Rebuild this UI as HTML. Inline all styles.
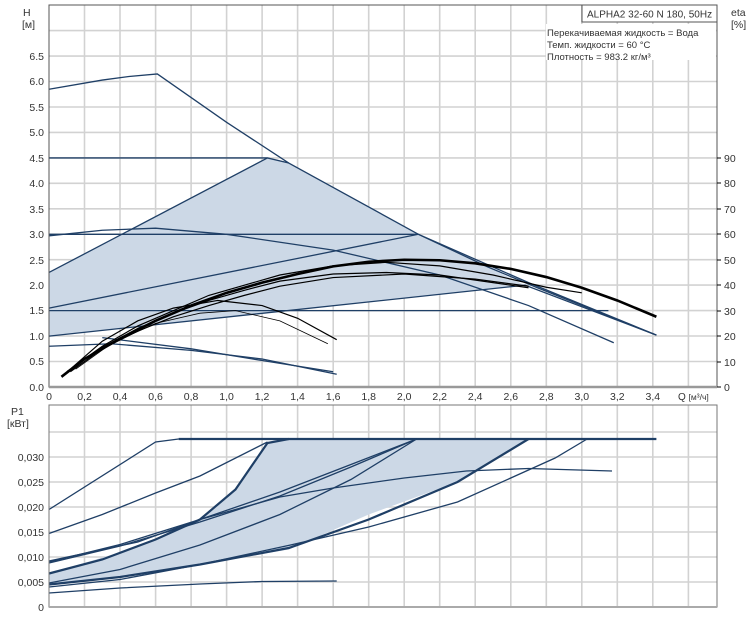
<!DOCTYPE html>
<html><head><meta charset="utf-8"><style>
body{margin:0;background:#fff;}
svg{display:block;font-family:"Liberation Sans","DejaVu Sans",sans-serif;}
.g line{stroke:#d2d2d2;stroke-width:1.6}
.c{fill:none;stroke:#1f3f66;stroke-width:1.3;vector-effect:non-scaling-stroke}
.t{stroke-width:2.2}
.k{fill:none;stroke:#000;stroke-width:1.2;vector-effect:non-scaling-stroke}
.kt{stroke-width:2.6}
text{font-size:10.5px;fill:#333}
</style></head><body>
<svg width="750" height="617" viewBox="0 0 750 617">
<rect x="49" y="5" width="668" height="382" fill="#fff"/>
<rect x="49" y="405" width="668" height="202" fill="#fff"/>
<!-- grids -->
<g class="g">
<line x1="84.5" y1="5" x2="84.5" y2="387"/><line x1="120" y1="5" x2="120" y2="387"/><line x1="155.6" y1="5" x2="155.6" y2="387"/><line x1="191.1" y1="5" x2="191.1" y2="387"/><line x1="226.6" y1="5" x2="226.6" y2="387"/><line x1="262.1" y1="5" x2="262.1" y2="387"/><line x1="297.6" y1="5" x2="297.6" y2="387"/><line x1="333.2" y1="5" x2="333.2" y2="387"/><line x1="368.7" y1="5" x2="368.7" y2="387"/><line x1="404.2" y1="5" x2="404.2" y2="387"/><line x1="439.7" y1="5" x2="439.7" y2="387"/><line x1="475.2" y1="5" x2="475.2" y2="387"/><line x1="510.8" y1="5" x2="510.8" y2="387"/><line x1="546.3" y1="5" x2="546.3" y2="387"/><line x1="581.8" y1="5" x2="581.8" y2="387"/><line x1="617.3" y1="5" x2="617.3" y2="387"/><line x1="652.8" y1="5" x2="652.8" y2="387"/><line x1="688.4" y1="5" x2="688.4" y2="387"/>
<line x1="84.5" y1="405" x2="84.5" y2="607"/><line x1="120" y1="405" x2="120" y2="607"/><line x1="155.6" y1="405" x2="155.6" y2="607"/><line x1="191.1" y1="405" x2="191.1" y2="607"/><line x1="226.6" y1="405" x2="226.6" y2="607"/><line x1="262.1" y1="405" x2="262.1" y2="607"/><line x1="297.6" y1="405" x2="297.6" y2="607"/><line x1="333.2" y1="405" x2="333.2" y2="607"/><line x1="368.7" y1="405" x2="368.7" y2="607"/><line x1="404.2" y1="405" x2="404.2" y2="607"/><line x1="439.7" y1="405" x2="439.7" y2="607"/><line x1="475.2" y1="405" x2="475.2" y2="607"/><line x1="510.8" y1="405" x2="510.8" y2="607"/><line x1="546.3" y1="405" x2="546.3" y2="607"/><line x1="581.8" y1="405" x2="581.8" y2="607"/><line x1="617.3" y1="405" x2="617.3" y2="607"/><line x1="652.8" y1="405" x2="652.8" y2="607"/><line x1="688.4" y1="405" x2="688.4" y2="607"/>
<line x1="49" y1="361.5" x2="717" y2="361.5"/><line x1="49" y1="336" x2="717" y2="336"/><line x1="49" y1="310.6" x2="717" y2="310.6"/><line x1="49" y1="285.1" x2="717" y2="285.1"/><line x1="49" y1="259.7" x2="717" y2="259.7"/><line x1="49" y1="234.2" x2="717" y2="234.2"/><line x1="49" y1="208.8" x2="717" y2="208.8"/><line x1="49" y1="183.3" x2="717" y2="183.3"/><line x1="49" y1="157.9" x2="717" y2="157.9"/><line x1="49" y1="132.4" x2="717" y2="132.4"/><line x1="49" y1="107" x2="717" y2="107"/><line x1="49" y1="81.5" x2="717" y2="81.5"/><line x1="49" y1="56.1" x2="717" y2="56.1"/><line x1="49" y1="30.6" x2="717" y2="30.6"/>
<line x1="49" y1="582" x2="717" y2="582"/><line x1="49" y1="557" x2="717" y2="557"/><line x1="49" y1="532" x2="717" y2="532"/><line x1="49" y1="507" x2="717" y2="507"/><line x1="49" y1="482" x2="717" y2="482"/><line x1="49" y1="457" x2="717" y2="457"/><line x1="49" y1="432" x2="717" y2="432"/>
</g>
<!-- top chart data -->
<g transform="translate(49,387) scale(177.6,-50.9)">
<polygon fill="#ccd8e6" points="0,2.25 1.23,4.5 1.35,4.4 2.08,3.0 2.47,2.36 2.68,2.0 0,1.0"/>
<polyline class="c" points="0,5.85 0.3,6.03 0.45,6.1 0.61,6.15 1.0,5.2 1.35,4.4 2.08,3.0 2.47,2.36 2.75,1.95 3.42,1.02"/>
<polyline class="c" points="0,4.5 1.23,4.5 1.35,4.4"/>
<polyline class="c" points="0,2.25 1.23,4.5"/>
<polyline class="c" points="0,3.0 2.08,3.0"/>
<polyline class="c" points="0,1.55 2.08,3.0"/>
<polyline class="c" points="0,1.5 3.15,1.5"/>
<polyline class="c" points="0,1.0 2.68,2.0 3.42,1.02"/>
<polyline class="c" points="2.08,3.0 2.7,2.05 3.42,1.02"/>
<polyline class="c" points="0,2.97 0.3,3.08 0.6,3.12 1.0,3.0 1.6,2.69 2.2,2.2 2.7,1.6 3.18,0.87"/>
<polyline class="c" points="0,0.8 0.35,0.85 0.8,0.72 1.2,0.55 1.62,0.25"/>
<polyline class="c" points="0.3,0.97 0.8,0.75 1.2,0.52 1.6,0.3"/>
<polyline class="k kt" points="0.07,0.2 0.2,0.55 0.4,0.95 0.6,1.3 0.8,1.6 1.0,1.85 1.2,2.05 1.4,2.22 1.6,2.37 1.8,2.46 2.0,2.5 2.2,2.49 2.4,2.43 2.6,2.32 2.8,2.16 3.0,1.95 3.2,1.7 3.42,1.38"/>
<polyline class="k" points="0.1,0.3 0.3,0.8 0.5,1.2 0.7,1.5 0.9,1.8 1.1,2.0 1.3,2.2 1.6,2.38 1.9,2.45 2.2,2.38 2.5,2.2 2.8,1.96 3.0,1.85"/>
<polyline class="k" points="0.1,0.3 0.3,0.78 0.5,1.15 0.7,1.45 0.9,1.7 1.1,1.9 1.3,2.08 1.6,2.22 1.9,2.25 2.2,2.2 2.5,2.05 2.7,1.95"/>
<polyline class="k" points="0.12,0.3 0.3,0.75 0.5,1.1 0.7,1.38 0.9,1.6 1.1,1.8 1.3,1.98 1.6,2.15 2.0,2.22 2.4,2.12 2.7,1.98"/>
<polyline class="k" points="0.12,0.35 0.3,0.9 0.5,1.3 0.7,1.55 0.95,1.7 1.2,1.6 1.4,1.35 1.62,0.93"/>
<polyline class="k" style="stroke-width:0.8" points="0.15,0.35 0.35,0.85 0.6,1.25 0.85,1.45 1.05,1.5 1.3,1.3 1.57,0.85"/>
</g>
<!-- bottom chart data -->
<g transform="translate(49,607) scale(177.6,-5000)">
<polygon fill="#ccd8e6" points="0,0.0067 0.5,0.012 0.85,0.0175 1.05,0.0235 1.23,0.0328 1.35,0.0336 2.7,0.0336 2.3,0.025 1.8,0.0185 1.35,0.0115 0.85,0.0085 0.4,0.006 0,0.0045"/>
<polyline class="c t" points="0.73,0.0336 3.42,0.0336"/>
<polyline class="c" points="0,0.0195 0.6,0.033 0.73,0.0336"/>
<polyline class="c" points="0,0.0147 0.3,0.0185 0.6,0.0228 0.85,0.0262 1.23,0.033"/>
<polyline class="c t" points="0,0.0067 0.3,0.0095 0.6,0.0135 0.85,0.0175 1.05,0.0235 1.23,0.0328 1.35,0.0336"/>
<polyline class="c" points="0,0.009 0.4,0.0125 0.85,0.0175 1.3,0.023 1.7,0.0285 2.07,0.0336"/>
<polyline class="c" points="0,0.0088 0.4,0.0122 0.85,0.017 1.3,0.0222 1.7,0.028 2.07,0.0336"/>
<polyline class="c" points="0,0.0092 0.5,0.013 0.85,0.0175 1.3,0.022 1.6,0.0238 2.0,0.0258 2.35,0.0272 2.7,0.0277 3.17,0.0272"/>
<polyline class="c" points="0,0.0048 0.4,0.0075 0.85,0.0124 1.3,0.0185 1.7,0.0255 2.07,0.0336"/>
<polyline class="c t" points="0,0.0045 0.4,0.006 0.85,0.0085 1.35,0.0118 1.8,0.0175 2.3,0.025 2.7,0.0336"/>
<polyline class="c" points="0,0.004 0.4,0.0055 0.85,0.0085 1.36,0.0124 1.8,0.016 2.3,0.021 2.85,0.0298 3.03,0.0336"/>
<polyline class="c" points="0,0.0028 0.4,0.0038 0.85,0.0046 1.2,0.0051 1.62,0.0052"/>
</g>
<!-- axes frames -->
<rect x="49" y="5" width="668" height="382" fill="none" stroke="#555" stroke-width="1"/>
<line x1="49" y1="387" x2="717" y2="387" stroke="#999" stroke-width="2.5"/>
<rect x="49" y="405" width="668" height="202" fill="none" stroke="#777" stroke-width="1"/>
<line x1="49" y1="607" x2="717" y2="607" stroke="#aaa" stroke-width="2"/>
<!-- info box -->
<rect x="582" y="5" width="135" height="17" fill="#fff" stroke="#555" stroke-width="1"/>
<text x="587" y="17.5" style="font-size:10px">ALPHA2 32-60 N 180, 50Hz</text>
<rect x="546" y="24" width="170" height="36" fill="#fff"/>
<text x="547" y="36" style="font-size:9.5px">Перекачиваемая жидкость = Вода</text>
<text x="547" y="48" style="font-size:9.5px">Темп. жидкости = 60 °C</text>
<text x="547" y="60" style="font-size:9.5px">Плотность = 983.2 кг/м³</text>
<!-- left labels -->
<text x="23" y="16">H</text><text x="22" y="28">[м]</text>
<g text-anchor="end">
<text x="44" y="60">6.5</text><text x="44" y="85">6.0</text><text x="44" y="111">5.5</text><text x="44" y="136">5.0</text><text x="44" y="162">4.5</text><text x="44" y="187">4.0</text><text x="44" y="213">3.5</text><text x="44" y="238">3.0</text><text x="44" y="264">2.5</text><text x="44" y="289">2.0</text><text x="44" y="314">1.5</text><text x="44" y="340">1.0</text><text x="44" y="365">0.5</text><text x="44" y="391">0.0</text>
<text x="44" y="461">0,030</text><text x="44" y="486">0,025</text><text x="44" y="511">0,020</text><text x="44" y="536">0,015</text><text x="44" y="561">0,010</text><text x="44" y="586">0,005</text><text x="44" y="611">0</text>
</g>
<text x="11" y="415">P1</text><text x="7" y="427">[кВт]</text>
<!-- right eta -->
<text x="731" y="16">eta</text><text x="731" y="28">[%]</text>
<g stroke="#000" stroke-width="1">
<line x1="717" y1="158" x2="721" y2="158"/><line x1="717" y1="183" x2="721" y2="183"/><line x1="717" y1="209" x2="721" y2="209"/><line x1="717" y1="234" x2="721" y2="234"/><line x1="717" y1="260" x2="721" y2="260"/><line x1="717" y1="285" x2="721" y2="285"/><line x1="717" y1="311" x2="721" y2="311"/><line x1="717" y1="336" x2="721" y2="336"/><line x1="717" y1="362" x2="721" y2="362"/><line x1="717" y1="387" x2="721" y2="387"/>
</g>
<text x="724" y="162">90</text><text x="724" y="187">80</text><text x="724" y="213">70</text><text x="724" y="238">60</text><text x="724" y="264">50</text><text x="724" y="289">40</text><text x="724" y="315">30</text><text x="724" y="340">20</text><text x="724" y="366">10</text><text x="724" y="391">0</text>
<!-- x labels -->
<g text-anchor="middle">
<text x="49" y="400">0</text><text x="84.5" y="400">0,2</text><text x="120" y="400">0,4</text><text x="155.6" y="400">0,6</text><text x="191.1" y="400">0,8</text><text x="226.6" y="400">1,0</text><text x="262.1" y="400">1,2</text><text x="297.6" y="400">1,4</text><text x="333.2" y="400">1,6</text><text x="368.7" y="400">1,8</text><text x="404.2" y="400">2,0</text><text x="439.7" y="400">2,2</text><text x="475.2" y="400">2,4</text><text x="510.8" y="400">2,6</text><text x="546.3" y="400">2,8</text><text x="581.8" y="400">3,0</text><text x="617.3" y="400">3,2</text><text x="652.8" y="400">3,4</text>
</g>
<text x="678" y="400" style="font-size:10px">Q <tspan style="font-size:8.5px">[м³/ч]</tspan></text>
</svg>
</body></html>
